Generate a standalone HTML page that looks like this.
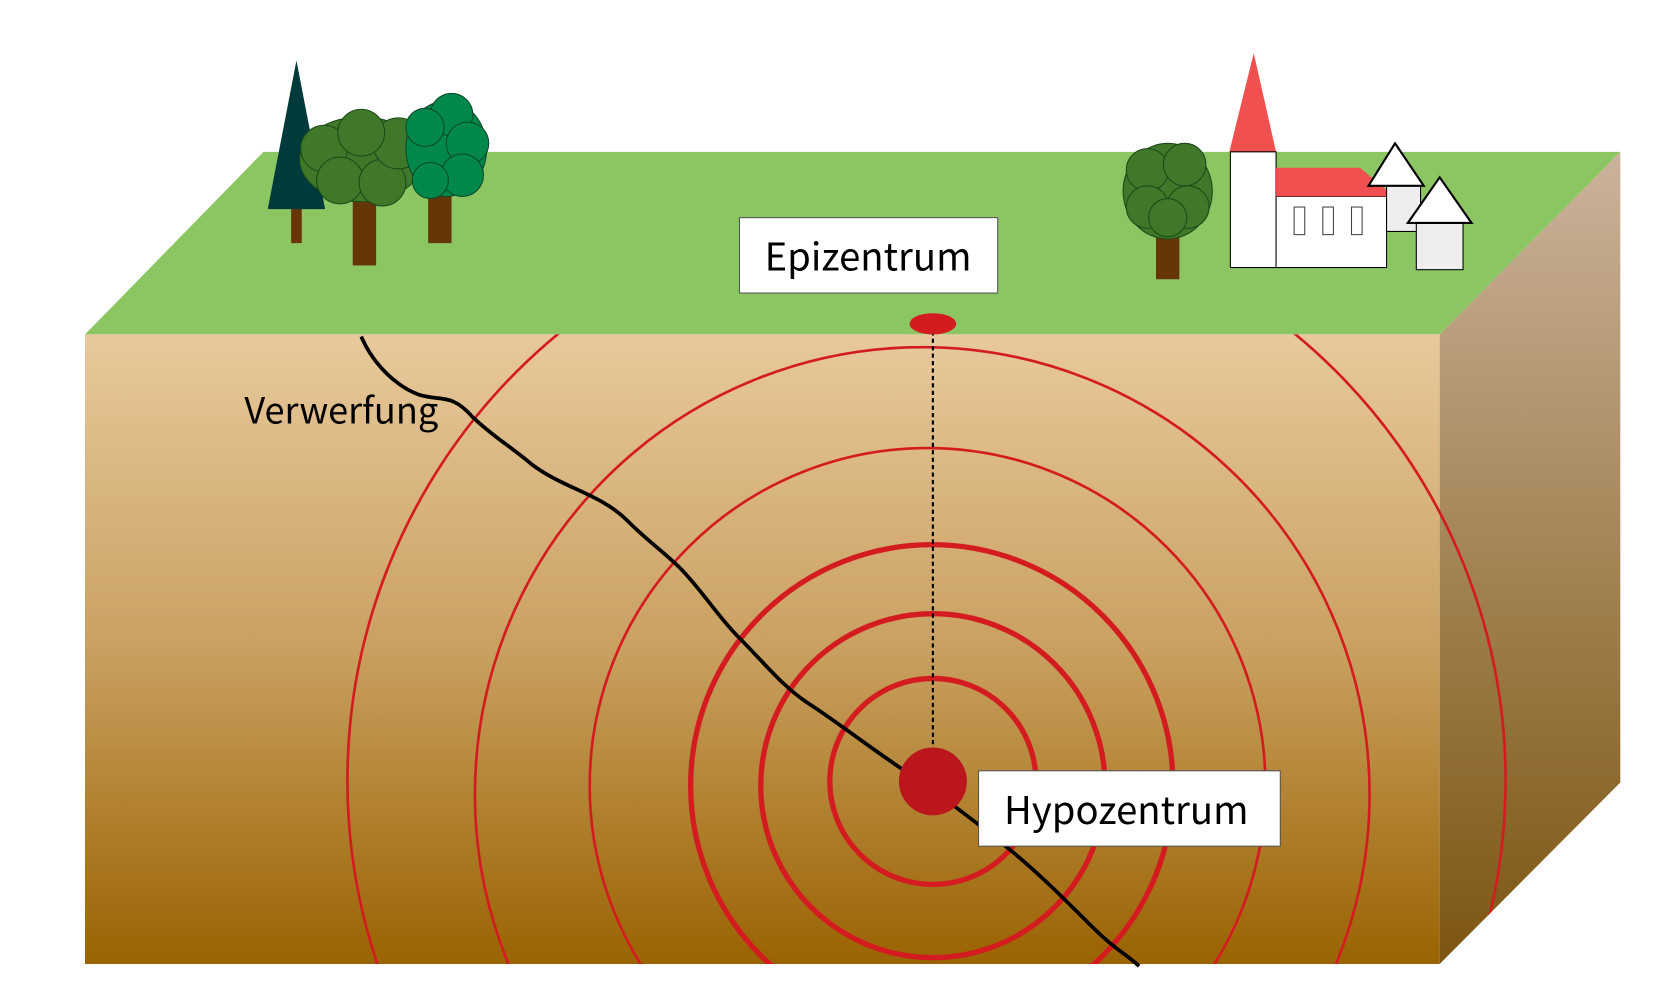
<!DOCTYPE html>
<html><head><meta charset="utf-8"><style>
html,body{margin:0;padding:0;background:#fff;width:1666px;height:998px;overflow:hidden;position:relative}
svg{display:block;position:absolute;left:0;top:0}
text{font-family:"Noto Sans CJK SC","Liberation Sans",sans-serif}
</style></head><body>
<svg width="1666" height="998" viewBox="0 0 1568 940" preserveAspectRatio="none" xmlns="http://www.w3.org/2000/svg">
<defs>
<linearGradient id="gf" x1="0" y1="0" x2="0" y2="1"><stop offset="0" stop-color="#e8c99c"/><stop offset="0.5" stop-color="#c9a060"/><stop offset="1" stop-color="#9a6302"/></linearGradient>
<linearGradient id="gs" x1="0" y1="0" x2="0" y2="1"><stop offset="0" stop-color="#cbb39b"/><stop offset="1" stop-color="#7c5510"/></linearGradient>
<clipPath id="cp"><polygon points="80,315 1355,315 1525,143 1525,737 1355,908 80,908"/></clipPath>
</defs>
<polygon points="80,315 248,143 1525,143 1355,315" fill="#8bc663"/>
<rect x="80" y="315" width="1275" height="593" fill="url(#gf)"/>
<polygon points="1355,315 1525,143 1525,737 1355,908" fill="url(#gs)"/>
<g clip-path="url(#cp)" fill="none" stroke="#d41c20">
<circle cx="872" cy="735" r="545" stroke-width="2.5"/>
<circle cx="868" cy="748" r="421" stroke-width="2.5"/>
<circle cx="873" cy="740" r="318" stroke-width="2.5"/>
<circle cx="877" cy="740" r="227" stroke-width="5"/>
<circle cx="878" cy="740" r="162" stroke-width="5"/>
<circle cx="878" cy="736" r="97" stroke-width="5"/>
</g>
<path d="M340,317 C352,345 375,365 395,372 C415,378 425,370 445,393 C465,412 480,420 500,437 C530,460 565,465 590,490 C610,510 625,520 640,535 C660,555 675,580 695,600 C720,625 735,645 760,662 C785,678 820,705 850,725 C880,745 920,775 950,800 C975,820 1000,845 1030,875 C1050,895 1062,900 1072,910" fill="none" stroke="#000" stroke-width="3.5"/>
<line x1="878" y1="305" x2="878" y2="705" stroke="#000" stroke-width="2" stroke-dasharray="4,3"/>
<ellipse cx="878" cy="305" rx="22" ry="10" fill="#d41c20"/>
<ellipse cx="878" cy="736" rx="32" ry="32" fill="#bb161c"/>
<rect x="696" y="205" width="243" height="71" fill="#fff" stroke="#555" stroke-width="1"/>
<text x="817" y="255" font-size="36" text-anchor="middle" fill="#000">Epizentrum</text>
<rect x="921" y="726" width="284" height="71" fill="#fff" stroke="#555" stroke-width="1"/>
<text x="1060" y="776" font-size="36" text-anchor="middle" fill="#000">Hypozentrum</text>
<text x="230" y="399" font-size="34" fill="#000">Verwerfung</text>
<rect x="274" y="195" width="10" height="34" fill="#663608"/>
<polygon points="279,57 252,197 306,197" fill="#003a3a"/>
<rect x="332" y="188" width="22" height="62" fill="#663608"/>
<rect x="403" y="180" width="22" height="49" fill="#663608"/>
<g fill="#3f7828" stroke="#1a4a1a" stroke-width="1">
<ellipse cx="340" cy="150" rx="58" ry="40"/>
<circle cx="305" cy="140" r="22"/><circle cx="320" cy="170" r="22"/><circle cx="360" cy="172" r="22"/><circle cx="375" cy="135" r="24"/><circle cx="340" cy="125" r="22"/>
</g>
<g fill="#00884a" stroke="#0a4a2a" stroke-width="1">
<ellipse cx="420" cy="140" rx="38" ry="45"/>
<circle cx="425" cy="108" r="20"/><circle cx="440" cy="135" r="20"/><circle cx="435" cy="165" r="20"/><circle cx="405" cy="170" r="17"/><circle cx="400" cy="120" r="18"/>
</g>
<rect x="1088" y="215" width="22" height="48" fill="#663608"/>
<g fill="#3f7828" stroke="#1a4a1a" stroke-width="1">
<ellipse cx="1099" cy="180" rx="42" ry="45"/>
<circle cx="1080" cy="160" r="20"/><circle cx="1115" cy="155" r="20"/><circle cx="1080" cy="195" r="20"/><circle cx="1118" cy="195" r="20"/><circle cx="1099" cy="205" r="18"/>
</g>
<polygon points="1180,50 1157,143 1201,143" fill="#f05050"/>
<rect x="1158" y="143" width="43" height="109" fill="#fff" stroke="#000" stroke-width="1"/>
<rect x="1201" y="185" width="104" height="67" fill="#fff" stroke="#000" stroke-width="1"/>
<polygon points="1201,185 1201,158 1280,158 1312,185" fill="#f05050"/>
<g fill="#fff" stroke="#444" stroke-width="1"><rect x="1218" y="195" width="10" height="26"/><rect x="1245" y="195" width="10" height="26"/><rect x="1272" y="195" width="10" height="26"/></g>
<rect x="1305" y="175" width="32" height="43" fill="#eee" stroke="#000" stroke-width="1"/>
<polygon points="1313,135 1288,175 1340,175" fill="#fff" stroke="#000" stroke-width="2"/>
<rect x="1333" y="210" width="44" height="44" fill="#eee" stroke="#000" stroke-width="1"/>
<polygon points="1355,167 1325,210 1385,210" fill="#fff" stroke="#000" stroke-width="2"/>
</svg>
</body></html>
